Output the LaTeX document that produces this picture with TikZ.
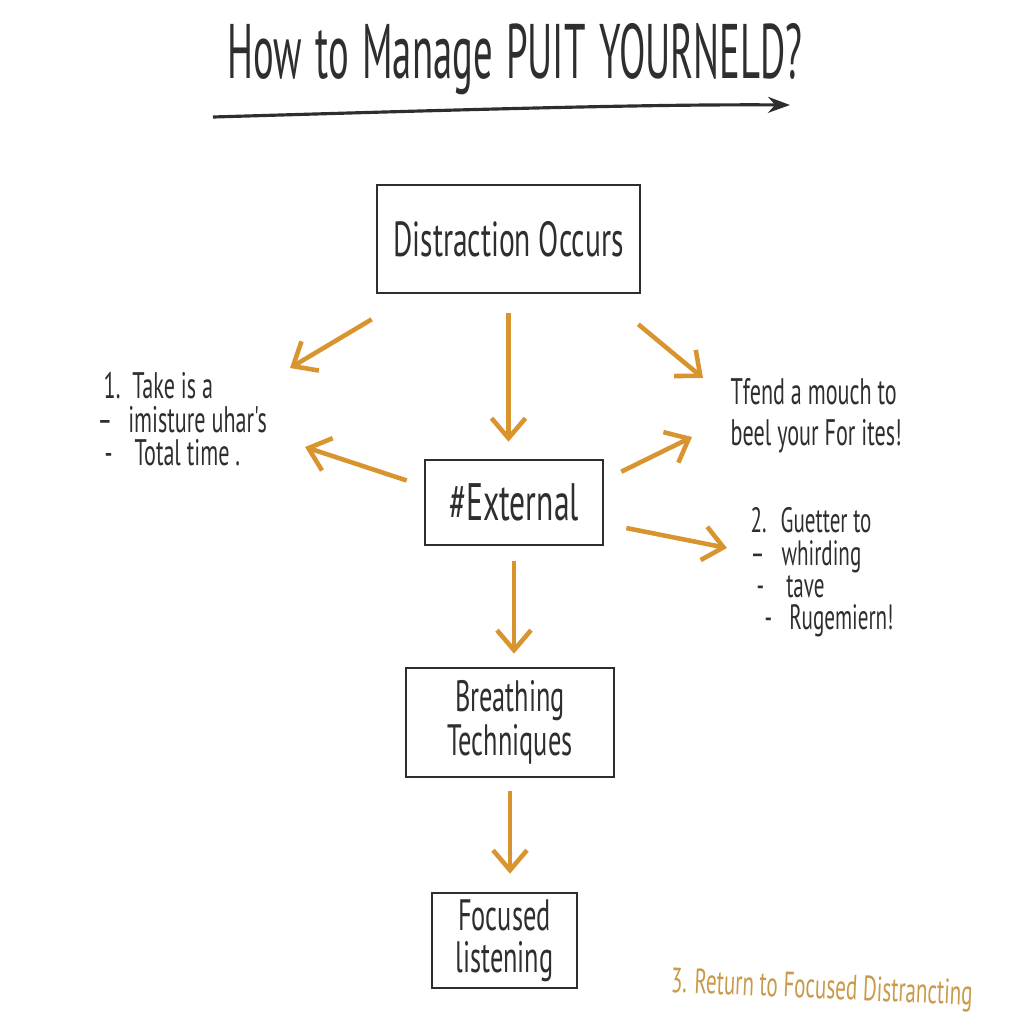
\documentclass[tikz,border=0pt]{standalone}
\usepackage{fontspec}
\newfontfamily\handfont[FakeStretch=0.6]{PT Sans}
\newfontfamily\titlefont[FakeStretch=0.5,WordSpace=1.3]{PT Sans}
\usetikzlibrary{arrows.meta,positioning,calc}
\definecolor{arrowor}{HTML}{D8952F}
\definecolor{inkgray}{HTML}{2E2E2E}
\definecolor{tanor}{HTML}{C99A4A}

\begin{document}
\begin{tikzpicture}[
    box/.style={draw=inkgray,line width=0.75pt,inner sep=0pt,align=center,text=inkgray},
    flow/.style={draw=arrowor,line width=1.3pt,-{Straight Barb[length=2mm,width=3.4mm]}},
    note/.style={inner sep=0pt,align=left,text=inkgray,anchor=north west}
  ]
    \useasboundingbox (0,0) rectangle (10.24,-10.24);
    \node[anchor=base,text=inkgray,font=\titlefont\fontsize{22}{26}\selectfont] (title) at (5.15,-0.78) {How to Manage PUIT YOURNELD?};
    \draw[inkgray,line width=0.9pt,-{Stealth[length=2.2mm,width=1.6mm]}] (2.13,-1.17) .. controls (4.5,-1.10) and (6.5,-1.04) .. (7.90,-1.05);

    \node[box,minimum width=2.63cm,minimum height=1.08cm,font=\handfont\fontsize{14}{16}\selectfont] (dist) at (5.085,-2.39) {Distraction Occurs};
    \node[box,minimum width=1.78cm,minimum height=0.85cm,font=\handfont\fontsize{15}{17}\selectfont] (ext) at (5.14,-5.025) {\#External};
    \node[box,minimum width=2.08cm,minimum height=1.09cm,font=\handfont\fontsize{12.5}{10.5}\selectfont] (breath) at (5.10,-7.225) {Breathing\\Techniques};
    \node[box,minimum width=1.45cm,minimum height=0.95cm,font=\handfont\fontsize{12.5}{12}\selectfont] (focus) at (5.045,-9.405) {Focused\\listening};

    \node[note,font=\handfont\fontsize{10.5}{9.4}\selectfont] (take) at (0.97,-3.72) {\hspace*{0.6mm}1.\hspace{1.2mm}Take is a\\–\hspace{1.6mm}imisture uhar's\\\hspace*{0.7mm}-\hspace{2.2mm}Total time .};
    \node[note,font=\handfont\fontsize{10.5}{11.6}\selectfont] (tend) at (7.30,-3.78) {Tfend a mouch to\\beel your For ites!};
    \node[note,font=\handfont\fontsize{10}{9.2}\selectfont] (guet) at (7.50,-5.07) {2.\hspace{1.4mm}Guetter to\\–\hspace{1.7mm}whirding\\\hspace*{0.6mm}-\hspace{2.2mm}tave\\\hspace*{1.4mm}-\hspace{1.7mm}Rugemiern!};
    \node[anchor=base west,inner sep=0pt,rotate=-2.5,text=tanor,font=\handfont\fontsize{10}{12}\selectfont] (ret) at (6.70,-9.92) {3. Return to Focused Distrancting};

    \draw[flow] ($(dist.south west)+(-0.04,-0.25)$) -- ($(take.north west)+(1.93,0.04)$);
    \draw[flow] ([yshift=-1.9mm]dist.south) -- ([yshift=1.7mm]dist.south |- ext.north);
    \draw[flow] ($(dist.south east)+(-0.03,-0.30)$) -- ($(tend.north west)+(-0.27,0)$);
    \draw[flow] ($(ext.west)+(-0.17,0.22)$) -- ($(take.north west)+(2.08,-0.75)$);
    \draw[flow] ($(ext.north east)+(0.17,-0.13)$) -- ($(tend.north west)+(-0.38,-0.59)$);
    \draw[flow] ($(ext.east)+(0.22,-0.255)$) -- ($(guet.north west)+(-0.23,-0.41)$);
    \draw[flow] ([yshift=-1.5mm]ext.south) -- ([yshift=1.3mm]ext.south |- breath.north);
    \draw[flow] ([yshift=-1.3mm]breath.south) -- ([yshift=1.8mm]breath.south |- focus.north);
  \end{tikzpicture}
\end{document}
